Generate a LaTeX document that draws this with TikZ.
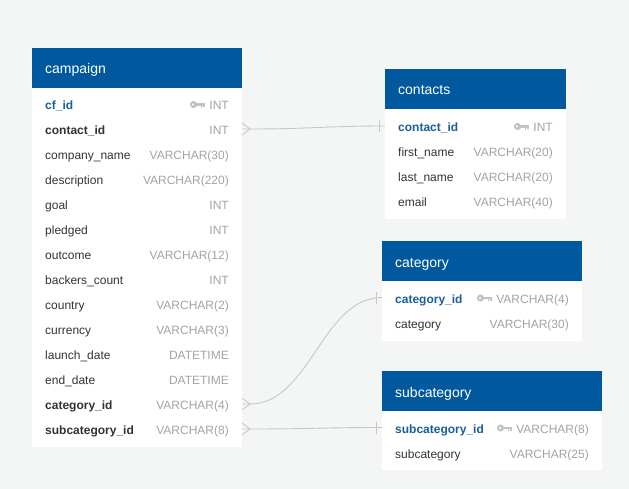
\documentclass[tikz,border=0pt]{standalone}
\usepackage{fontspec}
\setmainfont{Liberation Sans}
\definecolor{bg}{RGB}{244,245,245}
\definecolor{hdr}{RGB}{0,89,159}
\definecolor{pk}{RGB}{26,94,160}
\definecolor{fld}{RGB}{51,51,51}
\definecolor{typ}{RGB}{160,164,168}
\definecolor{keyc}{RGB}{192,196,200}
\definecolor{rel}{RGB}{198,199,200}
\tikzset{
  tbl/.style={fill=white, draw=none, anchor=north west, inner sep=0, outer sep=0},
  hdrbox/.style={fill=hdr, draw=none, anchor=north west, inner sep=0, outer sep=0, minimum height=40},
  title/.style={anchor=base west, text=white, inner sep=0, font=\fontsize{14}{16}\selectfont},
  fname/.style={anchor=base west, text=fld, inner sep=0, font=\fontsize{12}{14}\selectfont},
  fkey/.style={fname, font=\fontsize{12}{14}\selectfont\bfseries},
  fpk/.style={fkey, text=pk},
  ftype/.style={anchor=base east, text=typ, inner sep=0, font=\fontsize{12}{14}\selectfont},
  relline/.style={draw=rel, line width=0.9},
  keyicon/.pic={
    \fill[keyc] (3.5,0) circle (3.6);
    \fill[white] (3.0,0) circle (1.1);
    \fill[keyc] (6,-1.3) rectangle (15,1.1);
    \fill[keyc] (10.5,1) rectangle (12,3.4);
    \fill[keyc] (13.3,1) rectangle (15,2.8);
  }
}
\begin{document}
\begin{tikzpicture}[x=1pt,y=-1pt]
\useasboundingbox (0,0) rectangle (629,489);
\fill[bg] (0,0) rectangle (629,489);

% ---------- campaign ----------
\node[tbl, minimum width=210, minimum height=399] (campaign) at (32,48) {};
\node[hdrbox, minimum width=210] (campaignH) at (32,48) {};
\node[title] (campaignT) at (45,74) {campaign};
\node[fpk] (cf) at (45,109.5) {cf\_id};
\pic at (190,104.5) {keyicon};
\node[ftype] (cfT) at (229,109.5) {INT};
\node[fkey] (cContact) at (45,134.5) {contact\_id};
\node[ftype] (cContactT) at (229,134.5) {INT};
\foreach \i/\f/\t in {2/company\_name/VARCHAR(30), 3/description/VARCHAR(220),
    4/goal/INT, 5/pledged/INT, 6/outcome/VARCHAR(12), 7/backers\_count/INT,
    8/country/VARCHAR(2), 9/currency/VARCHAR(3), 10/launch\_date/DATETIME,
    11/end\_date/DATETIME}{
  \node[fname] (cf\i) at (45,109.5+25*\i) {\f};
  \node[ftype] (ct\i) at (229,109.5+25*\i) {\t};
}
\node[fkey] (cCat) at (45,409.5) {category\_id};
\node[ftype] (cCatT) at (229,409.5) {VARCHAR(4)};
\node[fkey] (cSub) at (45,434.5) {subcategory\_id};
\node[ftype] (cSubT) at (229,434.5) {VARCHAR(8)};

% ---------- contacts ----------
\node[tbl, minimum width=181, minimum height=150] (contacts) at (385,69) {};
\node[hdrbox, minimum width=181] (contactsH) at (385,69) {};
\node[title] (contactsT) at (398,95) {contacts};
\node[fpk] (kContact) at (398,131.5) {contact\_id};
\pic at (514,126.5) {keyicon};
\node[ftype] (kContactT) at (553,131.5) {INT};
\node[fname] (kFirst) at (398,156.5) {first\_name};
\node[ftype] (kFirstT) at (553,156.5) {VARCHAR(20)};
\node[fname] (kLast) at (398,181.5) {last\_name};
\node[ftype] (kLastT) at (553,181.5) {VARCHAR(20)};
\node[fname] (kMail) at (398,206.5) {email};
\node[ftype] (kMailT) at (553,206.5) {VARCHAR(40)};

% ---------- category ----------
\node[tbl, minimum width=200, minimum height=100] (category) at (382,241) {};
\node[hdrbox, minimum width=200] (categoryH) at (382,241) {};
\node[title] (categoryT) at (395,267) {category};
\node[fpk] (gId) at (395,303) {category\_id};
\pic at (477,298) {keyicon};
\node[ftype] (gIdT) at (569,303) {VARCHAR(4)};
\node[fname] (gName) at (395,328) {category};
\node[ftype] (gNameT) at (569,328) {VARCHAR(30)};

% ---------- subcategory ----------
\node[tbl, minimum width=220, minimum height=99] (subcategory) at (382,371) {};
\node[hdrbox, minimum width=220] (subcategoryH) at (382,371) {};
\node[title] (subcategoryT) at (395,397) {subcategory};
\node[fpk] (sId) at (395,433) {subcategory\_id};
\pic at (497,428) {keyicon};
\node[ftype] (sIdT) at (589,433) {VARCHAR(8)};
\node[fname] (sName) at (395,458) {subcategory};
\node[ftype] (sNameT) at (589,458) {VARCHAR(25)};

% ---------- relationship end points ----------
\coordinate (aContact) at (242,129);
\coordinate (bContact) at (385,126);
\coordinate (aCat) at (242,404);
\coordinate (bCat) at (382,297.5);
\coordinate (aSub) at (242,429);
\coordinate (bSub) at (382,427.5);

% ---------- relationships: many (crow's foot) to one (bar) ----------
\foreach \a/\b in {aContact/bContact, aCat/bCat, aSub/bSub}{
  \draw[relline] ([yshift=-6]\a) -- ([xshift=8]\a) -- ([yshift=6]\a);
  \draw[relline] (\a) -- ([xshift=8]\a)
    .. controls +(60,0) and +(-60,0) .. (\b);
  \draw[relline] ([xshift=-6,yshift=-6]\b) -- ([xshift=-6,yshift=6]\b);
}
\end{tikzpicture}
\end{document}
